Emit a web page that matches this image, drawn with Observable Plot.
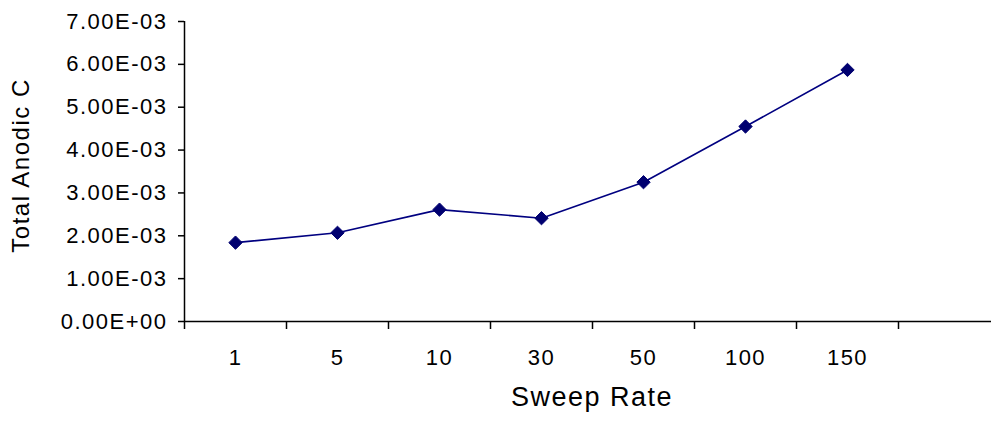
<!DOCTYPE html>
<html>
<head>
<meta charset="utf-8">
<script src="https://cdn.jsdelivr.net/npm/d3@7"></script>
<script src="https://cdn.jsdelivr.net/npm/@observablehq/plot@0.6"></script>
<style>
  html, body { margin: 0; padding: 0; background: #fff; overflow: hidden; }
</style>
</head>
<body>
<div id="chart"></div>
<script>
const categories = ["1", "5", "10", "30", "50", "100", "150"];
const values = [1.84e-3, 2.07e-3, 2.61e-3, 2.41e-3, 3.25e-3, 4.55e-3, 5.87e-3];
const yTicks = [0, 1e-3, 2e-3, 3e-3, 4e-3, 5e-3, 6e-3, 7e-3];
const yTickLabels = ["0.00E+00", "1.00E-03", "2.00E-03", "3.00E-03", "4.00E-03", "5.00E-03", "6.00E-03", "7.00E-03"];
const slotCount = 8; // Excel category axis leaves one empty slot on the right
const xTitle = "Sweep Rate";
const yTitle = "Total Anodic C";

const data = categories.map((c, i) => ({cat: c, pos: i + 0.5, v: values[i]}));
const slotEdges = d3.range(0, slotCount + 1);

const chart = Plot.plot({
  width: 991,
  height: 421,
  marginLeft: 184,
  marginRight: 0,
  marginTop: 21,
  marginBottom: 100,
  style: {fontFamily: "'Liberation Sans', Arial, sans-serif", fontSize: "22px", color: "#000", letterSpacing: "1.5px"},
  x: {domain: [0, slotCount], range: [184, 1000]},
  y: {domain: [0, 7e-3], range: [321, 21]},
  marks: [
    Plot.axisY({ticks: yTicks, tickFormat: d => yTickLabels[yTicks.indexOf(d)], tickSize: 6, tickPadding: 11, label: null, stroke: "#000", strokeWidth: 1.5}),
    Plot.axisX({ticks: slotEdges, tickFormat: () => "", tickSize: 8, label: null, stroke: "#000", strokeWidth: 1.5}),
    Plot.ruleY([0], {stroke: "#000", strokeWidth: 1.5}),
    Plot.ruleX([0], {y1: 0, y2: 7e-3, stroke: "#000", strokeWidth: 1.5}),
    Plot.text(data, {x: "pos", y: 0, text: "cat", dy: 36, fill: "#000"}),
    Plot.line(data, {x: "pos", y: "v", stroke: "#000080", strokeWidth: 1.6}),
    Plot.dot(data, {x: "pos", y: "v", symbol: "diamond2", r: 6, fill: "#000070", stroke: "#000070", strokeWidth: 1}),
    Plot.text([yTitle], {frameAnchor: "left", textAnchor: "middle", dx: -163, dy: -6, rotate: -90, fontSize: 24, fill: "#000", style: "letter-spacing:2.4px"}),
    Plot.text([xTitle], {frameAnchor: "bottom", dx: 4, dy: 84, fontSize: 27, fill: "#000"})
  ]
});
document.getElementById("chart").appendChild(chart);
</script>
</body>
</html>
